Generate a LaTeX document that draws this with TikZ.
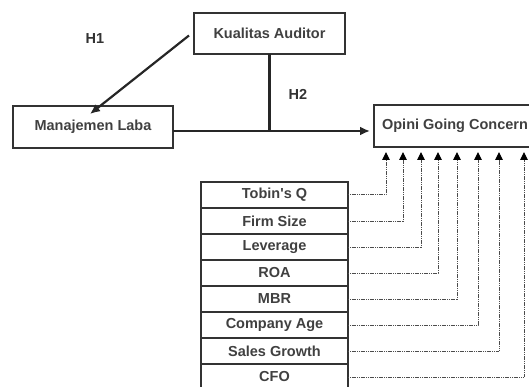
\documentclass[tikz,border=0pt]{standalone}
\usepackage{fontspec}
\setmainfont{Liberation Sans}
\usepackage{tikz}
\usetikzlibrary{arrows.meta,positioning}

\begin{document}
\begin{tikzpicture}[x=1pt, y=-1pt, font=\bfseries\fontsize{14.5}{17}\selectfont,
	box/.style={draw=black!80, line width=1.8pt, inner sep=0pt, outer sep=0pt, text=black!75},
	var/.style={box, minimum width=147pt, minimum height=26pt},
	link/.style={draw=black!85, line width=2.2pt},
	ctrl/.style={draw=black!70, line width=1pt, dash pattern=on 1.2pt off 0.6pt,
		-{Triangle[length=8pt,width=7.5pt,black]}, shorten >=5pt}]
	\useasboundingbox (0,0) rectangle (529,387);
	\node[box, minimum width=151pt, minimum height=41pt] (KA) at (269.5,33.5) {Kualitas Auditor};
	\node[box, minimum width=160pt, minimum height=42pt] (ML) at (93,127) {Manajemen Laba};
	\node[box, minimum width=162pt, minimum height=42pt] (OGC) at (455,126) {Opini Going Concern};
	\node[var] (V1) at (274.5,195) {Tobin\textquotesingle s Q};
	\node[var] (V2) [below=0pt of V1] {Firm Size};
	\node[var] (V3) [below=0pt of V2] {Leverage};
	\node[var] (V4) [below=0pt of V3] {ROA};
	\node[var] (V5) [below=0pt of V4] {MBR};
	\node[var] (V6) [below=0pt of V5] {Company Age};
	\node[var] (V7) [below=0pt of V6] {Sales Growth};
	\node[var] (V8) [below=0pt of V7] {CFO};
	\node[text=black!80] (H1) at (95,39) {H1};
	\node[text=black!80] (H2) at (298,94) {H2};
	\coordinate (J) at (KA.south |- 0,131);
	\draw[link, -{Latex[length=10pt,width=9pt]}] (KA.west) ++(-5,2) -- ([shift={(-3,8)}]ML.north);
	\draw[link] (KA.south) -- (J);
	\draw[link, -{Latex[length=10pt,width=9pt]}] (ML.east |- J) -- ([xshift=-4pt]OGC.west |- J);
	\draw[ctrl] (V1.east) -| ([xshift=12pt]OGC.south west);
	\draw[ctrl] (V2.east) -| ([xshift=29pt]OGC.south west);
	\draw[ctrl] (V3.east) -| ([xshift=47pt]OGC.south west);
	\draw[ctrl] (V4.east) -| ([xshift=64pt]OGC.south west);
	\draw[ctrl] (V5.east) -| ([xshift=83pt]OGC.south west);
	\draw[ctrl] (V6.east) -| ([xshift=104pt]OGC.south west);
	\draw[ctrl] (V7.east) -| ([xshift=125pt]OGC.south west);
	\draw[ctrl] (V8.east) -| ([xshift=150pt]OGC.south west);
\end{tikzpicture}
\end{document}
